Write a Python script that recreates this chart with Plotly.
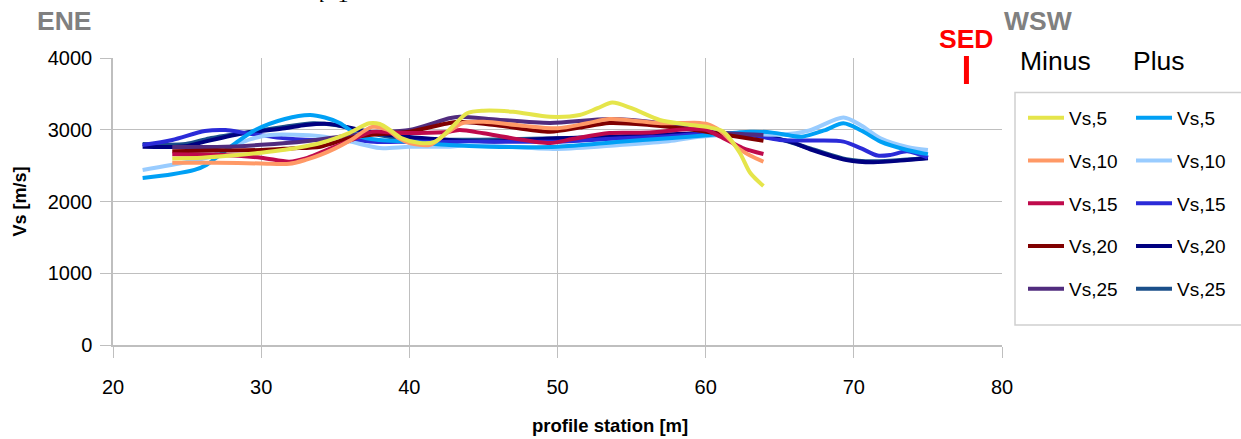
import plotly.graph_objects as go

# ---------------- data ----------------
depth_labels = ["Vs,5", "Vs,10", "Vs,15", "Vs,20", "Vs,25"]

# Minus side (warm colours)
minus5_x = [24, 26, 28, 30, 31.6, 33, 34, 35, 36, 37.3, 38, 38.8, 39.5, 40.7, 41.7, 42.7, 43.9, 45, 47, 49.5, 51.5, 52.7, 53.7, 55, 56.9, 58.5, 60.3, 61.2, 62.3, 63, 63.9]
minus5_y = [2600, 2610, 2640, 2680, 2720, 2770, 2815, 2880, 2960, 3090, 3080, 2980, 2880, 2815, 2830, 3000, 3230, 3265, 3250, 3180, 3205, 3300, 3380, 3300, 3136, 3080, 3030, 2975, 2680, 2400, 2215]

minus10_x = [24, 27, 30, 31.9, 33, 34, 35, 36, 37.5, 38.5, 39.3, 40, 41.4, 42.5, 43.6, 45, 47.5, 50, 52, 53.5, 55, 57, 59.6, 60.3, 61.2, 62.1, 63, 63.9]
minus10_y = [2540, 2540, 2530, 2525, 2580, 2650, 2740, 2850, 3040, 3000, 2880, 2815, 2790, 2950, 3094, 3110, 3060, 3020, 3090, 3150, 3130, 3090, 3094, 3066, 2950, 2760, 2640, 2555]

minus15_x = [24, 27, 30, 31.9, 33, 34, 36, 37.5, 39, 40.7, 42.7, 43.4, 45, 47, 49.5, 51, 53.5, 56.2, 58.9, 60, 61, 62.5, 63.9]
minus15_y = [2660, 2650, 2610, 2555, 2600, 2680, 2850, 2970, 2960, 2955, 2973, 2996, 2950, 2880, 2815, 2870, 2955, 2960, 3010, 3000, 2903, 2745, 2662]

minus20_x = [24, 27, 30, 32, 34, 36, 37.3, 40, 42.7, 43.4, 46, 49.5, 51.5, 53.5, 56.2, 59.5, 61, 63.9]
minus20_y = [2700, 2710, 2718, 2740, 2764, 2885, 2927, 2973, 3094, 3112, 3060, 2973, 3030, 3094, 3066, 2990, 2940, 2848]

minus25_x = [24, 27, 30, 33, 35.3, 37.3, 40, 42.7, 43.4, 46, 49.5, 53.5, 56.9, 60.3, 63.9]
minus25_y = [2760, 2760, 2790, 2840, 2903, 2960, 2996, 3160, 3182, 3140, 3094, 3150, 3094, 2973, 2927]

# Plus side (cool colours)
plus5_x = [22, 24, 25.5, 26.3, 26.9, 28.4, 29.6, 31.6, 33.3, 34.3, 35.3, 36.7, 38, 40, 42.7, 45.4, 50, 54.2, 57.5, 60.3, 63, 64.5, 65.7, 66.5, 68, 69.3, 70.5, 71.8, 73.6, 75]
plus5_y = [2327, 2380, 2440, 2510, 2600, 2834, 2996, 3150, 3205, 3170, 3094, 2903, 2857, 2834, 2787, 2764, 2764, 2834, 2880, 2927, 2973, 2960, 2920, 2903, 2990, 3090, 2990, 2834, 2718, 2660]

plus10_x = [22, 25, 26.5, 28, 29.3, 30.6, 34, 36, 38, 40, 42.7, 44, 50, 54.2, 57.5, 59.6, 63, 65, 67, 69.3, 70.5, 71.8, 73.6, 75]
plus10_y = [2439, 2550, 2620, 2760, 2870, 2927, 2910, 2834, 2745, 2764, 2764, 2787, 2732, 2787, 2840, 2903, 2940, 2930, 2990, 3170, 3060, 2880, 2760, 2718]

plus15_x = [22, 24, 26.2, 27.6, 28.9, 31.6, 33, 36, 38, 40, 42, 45, 50, 54.2, 57.5, 60.3, 63, 65, 67.5, 69.3, 70.5, 71.6, 72.5, 73.6, 75]
plus15_y = [2787, 2857, 2982, 2996, 2955, 2880, 2860, 2860, 2830, 2834, 2830, 2834, 2834, 2880, 2910, 2950, 2930, 2857, 2850, 2834, 2740, 2640, 2650, 2700, 2610]

plus20_x = [22, 24.9, 26.2, 28.9, 31.6, 33, 34.6, 36.7, 38.7, 42.7, 45, 50, 54.2, 60.3, 64, 65.7, 67.2, 69.5, 71.3, 73.6, 75]
plus20_y = [2764, 2770, 2834, 2955, 3020, 3066, 3080, 2996, 2927, 2857, 2834, 2880, 2903, 2950, 2900, 2834, 2718, 2578, 2546, 2578, 2602]

plus25_x = [22, 24.9, 26.5, 28.9, 31.6, 33.5, 35, 37, 39, 42.7, 50, 60, 64, 67.2, 69.5, 71.3, 73.6, 75]
plus25_y = [2800, 2800, 2880, 2960, 3042, 3090, 3066, 2970, 2890, 2860, 2880, 2940, 2920, 2730, 2590, 2560, 2585, 2610]

minus_x = [minus5_x, minus10_x, minus15_x, minus20_x, minus25_x]
minus_y = [minus5_y, minus10_y, minus15_y, minus20_y, minus25_y]
plus_x = [plus5_x, plus10_x, plus15_x, plus20_x, plus25_x]
plus_y = [plus5_y, plus10_y, plus15_y, plus20_y, plus25_y]

minus_colors = ["#E5E54B", "#FF9966", "#BF0A4C", "#800000", "#512C7E"]
plus_colors = ["#00A0F5", "#99CCFF", "#2B2BD8", "#000080", "#1B4F8A"]

FONT = "Liberation Sans, Arial, sans-serif"

# plot-area geometry in pixels (for paper conversions of decorations)
L, R, T, B = 113, 1002, 58, 345
def px(xp):
    return (xp - L) / (R - L)
def py(yp):
    return (B - yp) / (B - T)

fig = go.Figure()

# Plus traces drawn first (under), Minus traces on top
for i in reversed(range(5)):
    fig.add_trace(go.Scatter(
        x=plus_x[i], y=plus_y[i], mode="lines", name=depth_labels[i],
        line=dict(color=plus_colors[i], width=4, shape="spline", smoothing=0.8),
        legend="legend2", legendgroup="p%d" % i, legendrank=i + 1,
    ))
for i in reversed(range(5)):
    fig.add_trace(go.Scatter(
        x=minus_x[i], y=minus_y[i], mode="lines", name=depth_labels[i],
        line=dict(color=minus_colors[i], width=4, shape="spline", smoothing=0.8),
        legend="legend", legendgroup="m%d" % i, legendrank=i + 1,
    ))

axis_common = dict(
    showgrid=True, gridcolor="#BFBFBF", gridwidth=1,
    showline=True, linecolor="#BFBFBF", linewidth=1.5,
    ticks="outside", tickcolor="#BFBFBF", ticklen=11,
    tickfont=dict(family=FONT, size=20, color="#000000"),
    zeroline=False,
)

fig.update_layout(
    width=1241, height=439,
    margin=dict(l=L, r=1241 - R, t=T, b=439 - B, pad=0, autoexpand=False),
    paper_bgcolor="white", plot_bgcolor="white",
    font=dict(family=FONT, color="#000000"),
    xaxis=dict(range=[20, 80], dtick=10, tick0=20,
               ticklabelstandoff=12, **axis_common),
    yaxis=dict(range=[0, 4000], dtick=1000, tick0=0,
               title=dict(text="<b>Vs [m/s]</b>", font=dict(family=FONT, size=18), standoff=16),
               ticklabelstandoff=4, **axis_common),
    legend=dict(x=px(1023), y=py(99), xanchor="left", yanchor="top",
                bgcolor="rgba(0,0,0,0)", borderwidth=0, traceorder="grouped",
                tracegroupgap=15, itemwidth=36,
                font=dict(family=FONT, size=19, color="#000000")),
    legend2=dict(x=px(1131), y=py(99), xanchor="left", yanchor="top",
                 bgcolor="rgba(0,0,0,0)", borderwidth=0, traceorder="grouped",
                 tracegroupgap=15, itemwidth=36,
                 font=dict(family=FONT, size=19, color="#000000")),
    showlegend=True,
)

# legend frame
fig.add_shape(type="rect", xref="paper", yref="paper",
              x0=px(1015), x1=px(1250), y0=py(325), y1=py(92.5),
              line=dict(color="#D0D0D0", width=1.5), fillcolor="rgba(0,0,0,0)")

# SED marker
fig.add_shape(type="line", xref="x", yref="paper", x0=77.6, x1=77.6,
              y0=py(84), y1=py(56), line=dict(color="#FF0000", width=5))

annos = [
    dict(text="<b>ENE</b>", x=px(64.5), y=py(21), font=dict(size=26.5, color="#808080")),
    dict(text="<b>WSW</b>", x=px(1037.5), y=py(21), font=dict(size=26.5, color="#808080")),
    dict(text="<b>SED</b>", x=px(966), y=py(39), font=dict(size=26.5, color="#FF0000")),
    dict(text="Minus", x=px(1055), y=py(61), font=dict(size=26.5, color="#000000")),
    dict(text="Plus", x=px(1159), y=py(61), font=dict(size=26.5, color="#000000")),
    dict(text="<b>profile station [m]</b>", x=px(610), y=py(425), font=dict(size=18.5, color="#000000")),
]
for a in annos:
    a["font"]["family"] = FONT
    fig.add_annotation(xref="paper", yref="paper", showarrow=False,
                       xanchor="center", yanchor="middle", **a)

# cut-off formula fragment at the very top
fig.add_annotation(text="<i>i</i>=1", xref="paper", yref="paper", x=px(334), y=py(9),
                   xanchor="center", yanchor="bottom", showarrow=False,
                   font=dict(family="Liberation Serif, Times New Roman, serif", size=22, color="#000000"))

fig.write_html("out.html")
